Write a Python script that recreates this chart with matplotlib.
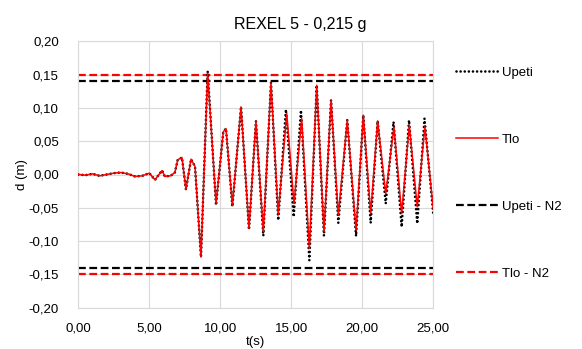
import matplotlib
matplotlib.use("Agg")
import matplotlib.pyplot as plt
from matplotlib.ticker import FuncFormatter, MultipleLocator

plt.rcParams['font.family'] = ['Liberation Sans', 'DejaVu Sans']

# Time (s) and displacement (m)
t_tlo = [0.0, 0.5, 1.0, 1.5, 2.0, 2.5, 3.0, 3.5, 4.0, 4.5, 5.0, 5.4, 5.9, 6.1,
         6.5, 6.8, 7.0, 7.3, 7.58, 7.94, 8.22, 8.64, 9.11, 9.70, 10.21, 10.4,
         10.85, 11.46, 12.02, 12.51, 13.03, 13.57, 14.08, 14.68, 15.19, 15.73,
         16.27, 16.79, 17.30, 17.80, 18.31, 18.94, 19.56, 20.07, 20.59, 21.08,
         21.65, 22.23, 22.77, 23.31, 23.87, 24.41, 25.0]
d_tlo = [0.0, -0.001, 0.001, -0.002, 0.0, 0.002, 0.003, 0.001, -0.003, -0.002,
         0.002, -0.008, 0.006, -0.003, -0.002, 0.003, 0.022, 0.0255, -0.0225,
         0.023, 0.012, -0.124, 0.152, -0.0435, 0.064, 0.069, -0.046, 0.1015,
         -0.081, 0.080, -0.086, 0.1376, -0.0596, 0.0915, -0.0436, 0.084, -0.111,
         0.134, -0.086, 0.1116, -0.061, 0.0815, -0.0836, 0.089, -0.0586, 0.0805,
         -0.0286, 0.0715, -0.0586, 0.074, -0.0486, 0.0715, -0.052]

t_upeti = [0.0, 0.5, 1.0, 1.5, 2.0, 2.5, 3.0, 3.5, 4.0, 4.5, 5.0, 5.4, 5.9, 6.1,
           6.5, 6.8, 7.0, 7.3, 7.58, 7.94, 8.22, 8.64, 9.11, 9.70, 10.21, 10.4,
           10.85, 11.46, 12.02, 12.51, 13.03, 13.57, 14.08, 14.62, 15.17, 15.68,
           16.27, 16.79, 17.30, 17.80, 18.31, 18.94, 19.56, 20.07, 20.59, 21.08,
           21.65, 22.20, 22.77, 23.29, 23.87, 24.38, 25.0]
d_upeti = [0.0, -0.001, 0.001, -0.002, 0.0, 0.002, 0.003, 0.001, -0.003, -0.002,
           0.002, -0.008, 0.006, -0.003, -0.002, 0.003, 0.022, 0.0255, -0.0225,
           0.023, 0.012, -0.124, 0.155, -0.046, 0.064, 0.069, -0.048, 0.1015,
           -0.083, 0.080, -0.092, 0.1376, -0.0686, 0.0976, -0.0636, 0.0965, -0.1287,
           0.134, -0.092, 0.1116, -0.0726, 0.0815, -0.0926, 0.089, -0.0726, 0.0805,
           -0.0436, 0.079, -0.0786, 0.0815, -0.0736, 0.084, -0.060]

t_limits = [0.0, 25.0]
upeti_n2_pos = [0.14, 0.14]
upeti_n2_neg = [-0.14, -0.14]
tlo_n2_pos = [0.15, 0.15]
tlo_n2_neg = [-0.15, -0.15]

title = "REXEL 5 - 0,215 g"

fig = plt.figure(figsize=(5.82, 3.49), dpi=100)
ax = fig.add_axes([78.3 / 582, 41.3 / 349, 355 / 582, 266.4 / 349])

ax.plot(t_upeti, d_upeti, color='black', lw=1.9, linestyle=(0, (0.01, 1.55)),
        dash_capstyle='round', label='Upeti', zorder=3)
ax.plot(t_tlo, d_tlo, color='#ff0000', lw=1.1, label='Tlo', zorder=4)
ax.plot(t_limits, upeti_n2_pos, color='black', lw=1.6, linestyle=(0, (3.5, 1.6)),
        label='Upeti - N2', zorder=2)
ax.plot(t_limits, upeti_n2_neg, color='black', lw=1.6, linestyle=(0, (3.5, 1.6)), zorder=2)
ax.plot(t_limits, tlo_n2_pos, color='#ff0000', lw=1.6, linestyle=(0, (3.5, 1.6)),
        label='Tlo - N2', zorder=2)
ax.plot(t_limits, tlo_n2_neg, color='#ff0000', lw=1.6, linestyle=(0, (3.5, 1.6)), zorder=2)

ax.set_xlim(0, 25)
ax.set_ylim(-0.2, 0.2)
ax.xaxis.set_major_locator(MultipleLocator(5))
ax.yaxis.set_major_locator(MultipleLocator(0.05))
fmt = FuncFormatter(lambda v, p: f"{v:.2f}".replace('.', ',').replace('-0,00', '0,00'))
ax.xaxis.set_major_formatter(fmt)
ax.yaxis.set_major_formatter(fmt)
ax.grid(True, color='#d9d9d9', lw=0.8)
ax.set_axisbelow(True)
for s in ax.spines.values():
    s.set_color('#d9d9d9')
    s.set_linewidth(0.8)
ax.tick_params(length=0, labelsize=9.5, colors='#000000')
ax.tick_params(axis='x', pad=11)
ax.tick_params(axis='y', pad=14)

ax.set_xlabel('t(s)', fontsize=9.5, labelpad=1)
ax.set_ylabel('d (m)', fontsize=9.5, labelpad=0)
fig.text(300 / 582, 1 - 24 / 349, title, ha='center', va='center', fontsize=11.5)

handles, labels = ax.get_legend_handles_labels()
fig.legend(handles, labels, loc='center left', bbox_to_anchor=(456 / 582, 1 - 173.4 / 349),
           frameon=False, fontsize=9.5, labelspacing=4.15, handlelength=3.2,
           handletextpad=0.3, borderpad=0, borderaxespad=0)

fig.savefig('out.png', dpi=100)
